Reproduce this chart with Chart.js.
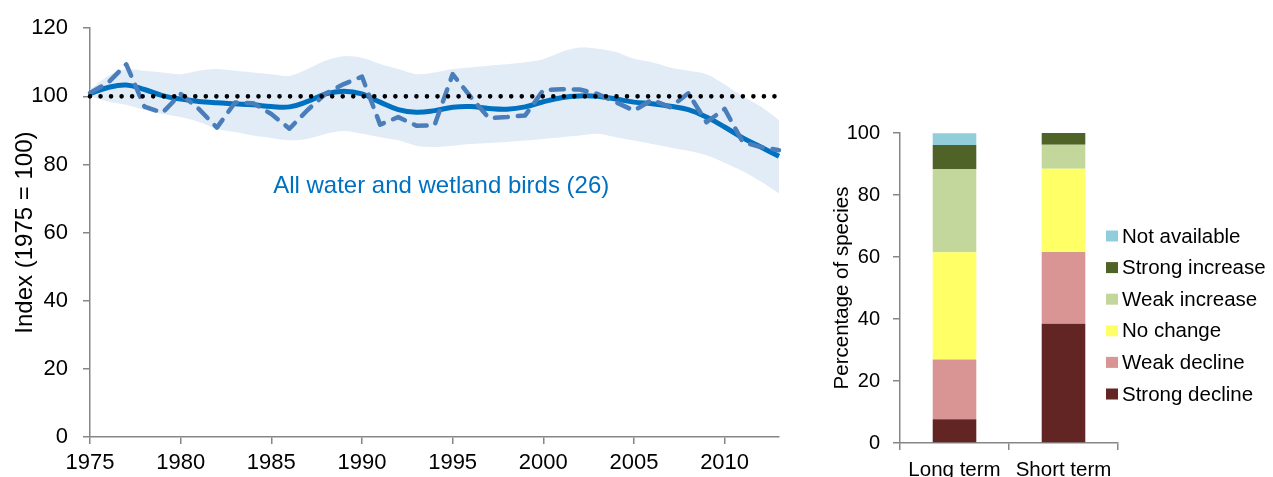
<!DOCTYPE html>
<html>
<head>
<meta charset="utf-8">
<script src="https://cdn.jsdelivr.net/npm/chart.js@4.4.1/dist/chart.umd.min.js"></script>
<style>
  html, body { margin: 0; padding: 0; background: #ffffff; overflow: hidden; }
  #wrap { position: relative; width: 1273px; height: 477px; }
  #trend { position: absolute; left: 0; top: 0; }
  #status { position: absolute; left: 800px; top: 0; }
</style>
</head>
<body>
<div id="wrap">
  <canvas id="trend" width="800" height="477"></canvas>
  <canvas id="status" width="473" height="477"></canvas>
</div>
<script>
// ---- Water and wetland bird index, 1975 = 100 ----
const years = [1975, 1976, 1977, 1978, 1979, 1980, 1981, 1982, 1983, 1984,
               1985, 1986, 1987, 1988, 1989, 1990, 1991, 1992, 1993, 1994,
               1995, 1996, 1997, 1998, 1999, 2000, 2001, 2002, 2003, 2004,
               2005, 2006, 2007, 2008, 2009, 2010, 2011, 2012, 2013];

const smoothedIndex = [100.8, 102.6, 103.3, 102.0, 100.2, 99.2, 98.5, 98.1, 97.8, 97.5,
                       97.0, 96.9, 98.5, 100.7, 101.5, 100.7, 98.3, 96.1, 95.3, 95.8,
                       96.8, 97.0, 96.4, 96.2, 96.9, 98.4, 99.6, 100.1, 100.0, 99.2,
                       98.3, 97.8, 97.1, 96.1, 93.9, 91.0, 87.8, 85.1, 82.4];

const unsmoothedIndex = [101.0, 104.0, 109.4, 97.0, 95.2, 100.7, 96.3, 90.8, 98.2, 98.0,
                         94.8, 90.5, 96.0, 100.8, 103.6, 105.8, 91.7, 93.9, 91.4, 91.5,
                         106.5, 99.8, 93.6, 93.9, 94.4, 101.8, 102.1, 102.0, 100.7, 98.3,
                         95.8, 99.0, 96.8, 100.9, 92.4, 96.3, 86.6, 85.1, 84.2];

const upperLimit = [102.0, 106.0, 108.0, 107.5, 107.0, 106.5, 107.5, 108.0, 107.5, 107.0,
                    106.5, 106.0, 108.0, 110.5, 111.8, 111.3, 109.5, 108.0, 106.5, 107.0,
                    108.0, 108.5, 109.0, 109.4, 110.0, 110.9, 113.0, 114.3, 114.0, 113.0,
                    111.0, 110.0, 108.5, 107.5, 106.5, 103.5, 100.0, 97.0, 93.0];

const lowerLimit = [100.0, 98.5, 97.5, 96.0, 94.8, 93.9, 92.5, 90.5, 89.5, 88.5,
                    87.8, 87.1, 87.5, 89.0, 89.8, 89.0, 88.0, 87.1, 85.5, 85.1,
                    85.5, 86.0, 86.3, 86.6, 87.0, 87.5, 88.0, 88.5, 89.0, 88.0,
                    87.0, 86.0, 85.0, 84.0, 82.7, 80.5, 78.0, 75.0, 71.5];

const baselineIndex = 100;
const indexTicks = [0, 20, 40, 60, 80, 100, 120];
const yearTicks = [1975, 1980, 1985, 1990, 1995, 2000, 2005, 2010];
const seriesName = 'All water and wetland birds (26)';
const seriesNameAt = { year: 1985.1, value: 73.5 };

// ---- Share of species by trend class ----
const periods = ['Long term', 'Short term'];
const trendClasses = ['Strong decline', 'Weak decline', 'No change',
                      'Weak increase', 'Strong increase', 'Not available'];
const longTermPct  = [7.7, 19.2, 34.6, 26.9, 7.7, 3.8];
const shortTermPct = [38.5, 23.1, 26.9, 7.7, 3.8, 0];
const percentTicks = [0, 20, 40, 60, 80, 100];

// ---- Styling ----
const FONT = 'Liberation Sans, Arial, sans-serif';
const AXIS_GREY = '#868686';
const classColours = ['#632523', '#D99594', '#FFFF66', '#C3D69B', '#4F6228', '#92CDDC'];

const toPoints = arr => years.map((yr, i) => ({ x: yr, y: arr[i] }));

// Text label placed in data space on the index chart
const seriesNamePlugin = {
  id: 'seriesName',
  afterDatasetsDraw(chart) {
    const { ctx, scales: { x, y } } = chart;
    ctx.save();
    ctx.font = '24px ' + FONT;
    ctx.fillStyle = '#0070C0';
    ctx.textAlign = 'left';
    ctx.textBaseline = 'middle';
    ctx.fillText(seriesName, x.getPixelForValue(seriesNameAt.year), y.getPixelForValue(seriesNameAt.value));
    ctx.restore();
  }
};

new Chart(document.getElementById('trend'), {
  type: 'line',
  data: {
    datasets: [
      {
        label: 'Baseline',
        data: [{ x: years[0], y: baselineIndex }, { x: years[years.length - 1], y: baselineIndex }],
        borderColor: '#000000', borderWidth: 4.6, borderDash: [0, 10.53], borderCapStyle: 'round',
        pointRadius: 0, fill: false, order: 0, clip: false
      },
      {
        label: 'Unsmoothed',
        data: toPoints(unsmoothedIndex),
        borderColor: '#4A7EBB', borderWidth: 4.5, borderDash: [13, 10], borderCapStyle: 'round',
        borderJoinStyle: 'round', pointRadius: 0, tension: 0, fill: false, order: 1, clip: false
      },
      {
        label: 'Smoothed',
        data: toPoints(smoothedIndex),
        borderColor: '#0070C0', borderWidth: 5, pointRadius: 0, tension: 0.4,
        borderCapStyle: 'butt', fill: false, order: 2, clip: false
      },
      {
        label: 'Upper limit',
        data: toPoints(upperLimit),
        borderColor: 'rgba(0,0,0,0)', borderWidth: 0, backgroundColor: '#E1ECF7',
        pointRadius: 0, tension: 0.3, fill: '+1', order: 3
      },
      {
        label: 'Lower limit',
        data: toPoints(lowerLimit),
        borderColor: 'rgba(0,0,0,0)', borderWidth: 0,
        pointRadius: 0, tension: 0.3, fill: false, order: 4
      }
    ]
  },
  options: {
    responsive: false,
    animation: false,
    events: [],
    layout: { padding: { left: 0, right: 21, top: 25, bottom: 0 } },
    plugins: { legend: { display: false }, tooltip: { enabled: false } },
    scales: {
      x: {
        type: 'linear', min: 1975, max: 2013,
        afterBuildTicks: s => { s.ticks = yearTicks.map(v => ({ value: v })); },
        afterFit: s => { s.height = 40; },
        grid: { display: true, drawOnChartArea: false, drawTicks: true, tickLength: 7, color: AXIS_GREY, lineWidth: 1.5 },
        border: { display: true, color: AXIS_GREY, width: 1.5 },
        ticks: { color: '#000000', font: { family: FONT, size: 22 }, padding: 6, maxRotation: 0, includeBounds: false,
                 callback: v => String(v) }
      },
      y: {
        type: 'linear', min: 0, max: 120,
        afterBuildTicks: s => { s.ticks = indexTicks.map(v => ({ value: v })); },
        afterFit: s => { s.width = 90; },
        grid: { display: true, drawOnChartArea: false, drawTicks: true, tickLength: 7, color: AXIS_GREY, lineWidth: 1.5 },
        border: { display: true, color: AXIS_GREY, width: 1.5 },
        ticks: { color: '#000000', font: { family: FONT, size: 22 }, padding: 15 },
        title: { display: true, text: 'Index (1975 = 100)', color: '#000000',
                 font: { family: FONT, size: 24 }, padding: { top: 11, bottom: 0 } }
      }
    }
  },
  plugins: [seriesNamePlugin]
});

// Legend drawn over the right edge of the stacked bars, top class first
const classLegendPlugin = {
  id: 'classLegend',
  afterDraw(chart) {
    const { ctx } = chart;
    const boxX = 306, textX = 322, firstY = 236, step = 31.6, boxW = 12, boxH = 11;
    const sets = chart.data.datasets.slice().reverse();
    ctx.save();
    ctx.font = '20.5px ' + FONT;
    ctx.textAlign = 'left';
    ctx.textBaseline = 'middle';
    sets.forEach((ds, i) => {
      const cy = firstY + i * step;
      ctx.fillStyle = ds.backgroundColor;
      ctx.fillRect(boxX, cy - boxH / 2, boxW, boxH);
      ctx.fillStyle = '#000000';
      ctx.fillText(ds.label, textX, cy + 1);
    });
    ctx.restore();
  }
};

new Chart(document.getElementById('status'), {
  type: 'bar',
  data: {
    labels: periods,
    datasets: trendClasses.map((name, k) => ({
      label: name,
      data: [longTermPct[k], shortTermPct[k]],
      backgroundColor: classColours[k],
      borderWidth: 0,
      categoryPercentage: 1,
      barPercentage: 0.4
    }))
  },
  options: {
    responsive: false,
    animation: false,
    events: [],
    layout: { padding: { left: 0, right: 155, top: 133, bottom: 0 } },
    plugins: { legend: { display: false }, tooltip: { enabled: false } },
    scales: {
      x: {
        stacked: true,
        afterFit: s => { s.height = 34; },
        grid: { display: true, offset: true, drawOnChartArea: false, drawTicks: true, tickLength: 7, color: AXIS_GREY, lineWidth: 1.5 },
        border: { display: true, color: AXIS_GREY, width: 1.5 },
        ticks: { color: '#000000', font: { family: FONT, size: 20.5 }, padding: 8, maxRotation: 0, autoSkip: false }
      },
      y: {
        stacked: true, min: 0, max: 100,
        afterBuildTicks: s => { s.ticks = percentTicks.map(v => ({ value: v })); },
        afterFit: s => { s.width = 100; },
        grid: { display: true, drawOnChartArea: false, drawTicks: true, tickLength: 7, color: AXIS_GREY, lineWidth: 1.5 },
        border: { display: true, color: AXIS_GREY, width: 1.5 },
        ticks: { color: '#000000', font: { family: FONT, size: 20 }, padding: 13 },
        title: { display: true, text: 'Percentage of species', color: '#000000',
                 font: { family: FONT, size: 20.5 }, padding: { top: 30, bottom: 0 } }
      }
    }
  },
  plugins: [classLegendPlugin]
});
</script>
</body>
</html>
